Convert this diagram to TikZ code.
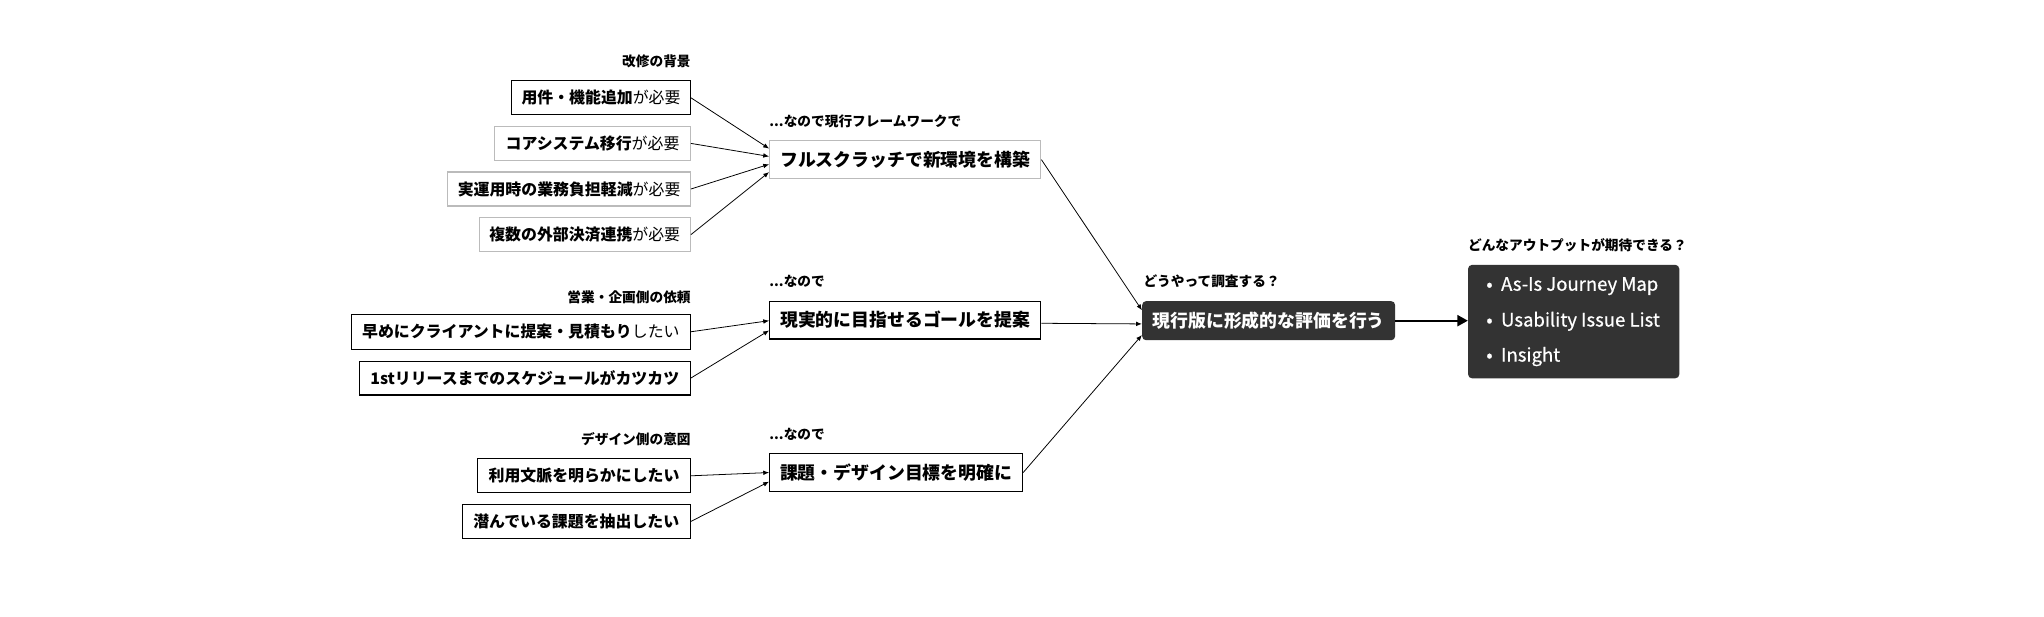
\documentclass[tikz,border=0pt]{standalone}
\usepackage{fontspec}
\setmainfont{Noto Sans CJK JP}
\newfontfamily\itemfont{Noto Sans CJK JP}[FakeBold=0.6]
\usetikzlibrary{arrows.meta,calc}
\definecolor{boxgray}{HTML}{BBBBBB}
\definecolor{darkfill}{HTML}{333333}
\tikzset{
  lbl/.style={font=\fontsize{10.5}{12}\selectfont\bfseries, inner sep=0pt, text=black},
  sbox/.style={draw=black, line width=0.9pt, minimum height=26pt, inner xsep=3pt, inner ysep=0pt,
    font=\fontsize{12.2}{14}\selectfont\bfseries, anchor=east},
  gbox/.style={sbox, draw=boxgray},
  mbox/.style={draw=black, line width=0.9pt, minimum height=29pt, inner xsep=3pt, inner ysep=0pt,
    font=\fontsize{13.7}{16}\selectfont\bfseries, anchor=west},
  gmbox/.style={mbox, draw=boxgray},
  dbox/.style={fill=darkfill, rounded corners=3pt, text=white, inner xsep=3pt, inner ysep=0pt},
  item/.style={font=\itemfont\fontsize{14.2}{16}\selectfont, text=white, inner sep=0pt, anchor=west},
  arr/.style={-{Latex[length=4.5pt,width=3.6pt]}, line width=0.6pt},
  bigarr/.style={-{Triangle[length=8pt,width=8.5pt]}, line width=1.4pt},
}
\begin{document}
\begin{tikzpicture}[x=1pt,y=-1pt]
\useasboundingbox (0,0) rectangle (1568,473);

% group 1
\node[lbl, anchor=east] (l1) at (530,47) {改修の背景};
\node[sbox, minimum width=137pt] (b1) at (530,75) {用件・機能追加{\mdseries が必要}};
\node[gbox, minimum width=150pt] (b2) at (530,110) {コアシステム移行{\mdseries が必要}};
\node[gbox, minimum width=186pt] (b3) at (530,145) {実運用時の業務負担軽減{\mdseries が必要}};
\node[gbox, minimum width=162pt] (b4) at (530,180) {複数の外部決済連携{\mdseries が必要}};
\node[lbl, anchor=west] (lA) at (590,93) {...なので現行フレームワークで};
\node[gmbox, minimum width=208pt] (A) at (590,122.5) {フルスクラッチで新環境を構築};

% group 2
\node[lbl, anchor=east] (l2) at (530,228) {営業・企画側の依頼};
\node[sbox, minimum width=260pt, minimum height=27pt] (b5) at (530,254.5) {早めにクライアントに提案・見積もり{\mdseries したい}};
\node[sbox, minimum width=254pt] (b6) at (530,290) {1stリリースまでのスケジュールがカツカツ};
\node[lbl, anchor=west] (lB) at (590,216) {...なので};
\node[mbox, minimum width=208pt] (B) at (590,245.5) {現実的に目指せるゴールを提案};

% group 3
\node[lbl, anchor=east] (l3) at (530,337) {デザイン側の意図};
\node[sbox, minimum width=163pt] (b7) at (530,365) {利用文脈を明らかにしたい};
\node[sbox, minimum width=175pt] (b8) at (530,400) {潜んでいる課題を抽出したい};
\node[lbl, anchor=west] (lC) at (590,333) {...なので};
\node[mbox, minimum width=194pt] (C) at (590,362.5) {課題・デザイン目標を明確に};

% evaluation
\node[lbl, anchor=west] (lD) at (877,216) {どうやって調査する？};
\node[dbox, anchor=west, minimum width=194pt, minimum height=30pt,
  font=\fontsize{13.7}{16}\selectfont\bfseries] (D) at (876,246) {現行版に形成的な評価を行う};

% output
\node[lbl, anchor=west] (lE) at (1126,188) {どんなアウトプットが期待できる？};
\node[dbox, anchor=north west, minimum width=162pt, minimum height=87pt] (E) at (1126,203) {};
\node[item] (e1) at (1140,219.5) {•\hspace{6.5pt}As-Is Journey Map};
\node[item] (e2) at (1140,246.5) {•\hspace{6.5pt}Usability Issue List};
\node[item] (e3) at (1140,273.5) {•\hspace{6.5pt}Insight};

% arrows
\draw[arr] (b1.east) -- ([yshift=8.5pt]A.west);
\draw[arr] (b2.east) -- ([yshift=2.5pt]A.west);
\draw[arr] (b3.east) -- ([yshift=-3.5pt]A.west);
\draw[arr] (b4.east) -- ([yshift=-9.5pt]A.west);
\draw[arr] (b5.east) -- ([yshift=-0.5pt]B.west);
\draw[arr] (b6.east) -- ([yshift=-8pt]B.west);
\draw[arr] (b7.east) -- ([yshift=0pt]C.west);
\draw[arr] (b8.east) -- ([yshift=-7pt]C.west);
\draw[arr] (A.east) -- ([yshift=8pt]D.west);
\draw[arr] ([yshift=-2.5pt]B.east) -- ([yshift=-2.5pt]D.west);
\draw[arr] (C.east) -- ([yshift=-11pt]D.west);
\draw[bigarr] (D.east) -- (E.west |- D.east);
\end{tikzpicture}
\end{document}
